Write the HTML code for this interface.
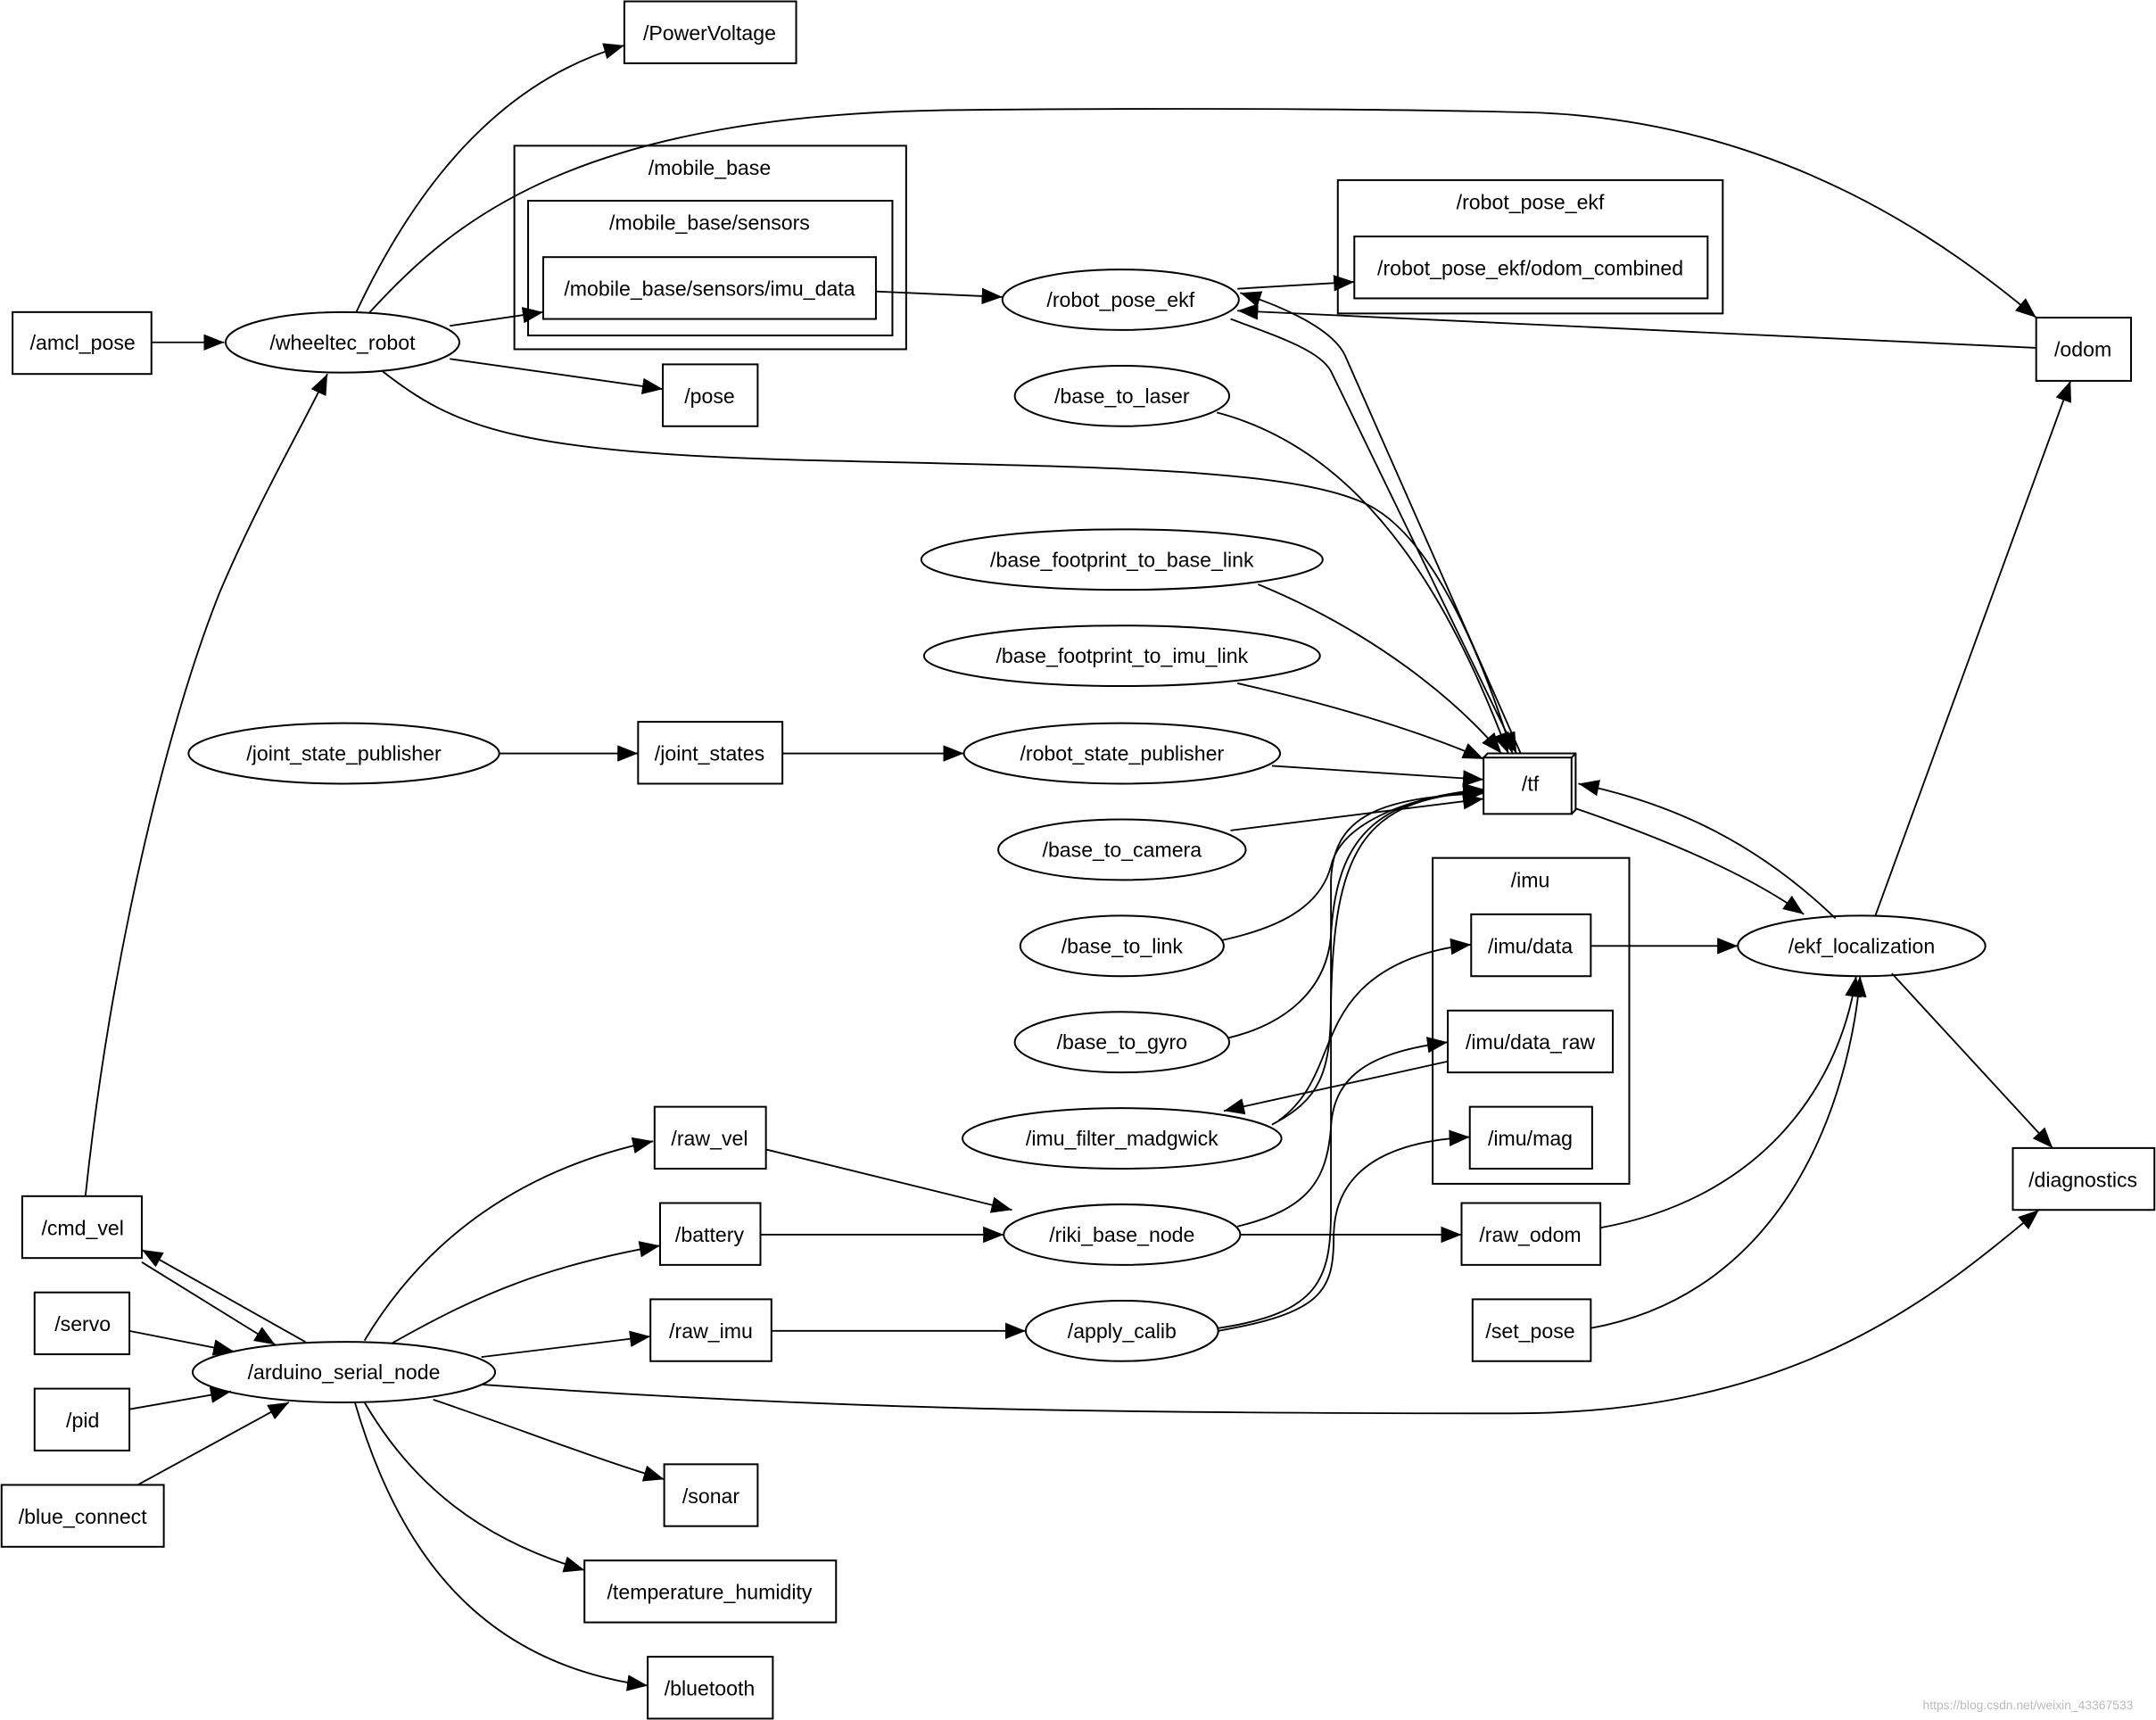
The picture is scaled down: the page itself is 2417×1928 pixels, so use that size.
<!DOCTYPE html>
<html><head><meta charset="utf-8"><style>
html,body{margin:0;padding:0;background:#fff;}
svg{display:block;}
text{font-family:"Liberation Sans","DejaVu Sans",sans-serif;font-size:15px;fill:#000;text-anchor:middle;dominant-baseline:central;}
.b{fill:none;stroke:#000;stroke-width:1.3;}
.e{fill:none;stroke:#000;stroke-width:1.2;marker-end:url(#a);}
</style></head><body>
<svg width="2417" height="1928" viewBox="0 0 1568 1251" xmlns="http://www.w3.org/2000/svg">
<defs><marker id="a" markerUnits="userSpaceOnUse" markerWidth="16" markerHeight="12" refX="15" refY="6" orient="auto"><path d="M0,0 L15,6 L0,12 Z" fill="#000"/></marker></defs>
<rect width="1568" height="1251" fill="#fff"/>
<!-- clusters -->
<rect class="b" x="374" y="106" width="285" height="148"/><text x="516" y="122">/mobile_base</text>
<rect class="b" x="384" y="146" width="265" height="98"/><text x="516" y="162">/mobile_base/sensors</text>
<rect class="b" x="973" y="131" width="280" height="97"/><text x="1113" y="147">/robot_pose_ekf</text>
<rect class="b" x="1042" y="624" width="143" height="237"/><text x="1113" y="640">/imu</text>
<!-- boxes -->
<rect class="b" x="454" y="1" width="125" height="45"/><text x="516" y="24">/PowerVoltage</text>
<rect class="b" x="9" y="227" width="101" height="45"/><text x="60" y="249">/amcl_pose</text>
<rect class="b" x="482" y="265" width="69" height="45"/><text x="516" y="288">/pose</text>
<rect class="b" x="1481" y="231" width="69" height="46"/><text x="1515" y="254">/odom</text>
<rect class="b" x="464" y="525" width="105" height="45"/><text x="516" y="548">/joint_states</text>
<rect class="b" x="1079" y="551" width="64" height="41"/><path class="b" d="M1079,551 L1082,548 L1146,548 L1146,589 L1143,592 M1143,551 L1146,548"/><text x="1113" y="570">/tf</text>
<rect class="b" x="476" y="805" width="81" height="45"/><text x="516" y="828">/raw_vel</text>
<rect class="b" x="480" y="875" width="73" height="45"/><text x="516" y="898">/battery</text>
<rect class="b" x="473" y="945" width="88" height="45"/><text x="517" y="968">/raw_imu</text>
<rect class="b" x="483" y="1065" width="68" height="45"/><text x="517" y="1088">/sonar</text>
<rect class="b" x="425" y="1135" width="183" height="45"/><text x="516" y="1158">/temperature_humidity</text>
<rect class="b" x="471" y="1205" width="91" height="45"/><text x="516" y="1228">/bluetooth</text>
<rect class="b" x="16" y="870" width="87" height="45"/><text x="60" y="893">/cmd_vel</text>
<rect class="b" x="25" y="940" width="69" height="45"/><text x="60" y="963">/servo</text>
<rect class="b" x="25" y="1010" width="69" height="45"/><text x="60" y="1033">/pid</text>
<rect class="b" x="1" y="1080" width="118" height="45"/><text x="60" y="1103">/blue_connect</text>
<rect class="b" x="1464" y="835" width="103" height="45"/><text x="1515" y="858">/diagnostics</text>
<rect class="b" x="1063" y="875" width="101" height="45"/><text x="1113" y="898">/raw_odom</text>
<rect class="b" x="1071" y="945" width="86" height="45"/><text x="1113" y="968">/set_pose</text>
<rect class="b" x="1070" y="665" width="87" height="45"/><text x="1113" y="688">/imu/data</text>
<rect class="b" x="1053" y="735" width="120" height="45"/><text x="1113" y="758">/imu/data_raw</text>
<rect class="b" x="1069" y="805" width="89" height="45"/><text x="1113" y="828">/imu/mag</text>
<rect class="b" x="395" y="187" width="242" height="45"/><text x="516" y="210">/mobile_base/sensors/imu_data</text>
<rect class="b" x="985" y="172" width="257" height="45"/><text x="1113" y="195">/robot_pose_ekf/odom_combined</text>
<!-- ellipses -->
<ellipse class="b" cx="249" cy="249" rx="85" ry="22"/><text x="249" y="249">/wheeltec_robot</text>
<ellipse class="b" cx="815" cy="218" rx="86" ry="22"/><text x="815" y="218">/robot_pose_ekf</text>
<ellipse class="b" cx="816" cy="288" rx="78" ry="22"/><text x="816" y="288">/base_to_laser</text>
<ellipse class="b" cx="816" cy="407" rx="146" ry="22"/><text x="816" y="407">/base_footprint_to_base_link</text>
<ellipse class="b" cx="816" cy="477" rx="144" ry="22"/><text x="816" y="477">/base_footprint_to_imu_link</text>
<ellipse class="b" cx="250" cy="548" rx="113" ry="22"/><text x="250" y="548">/joint_state_publisher</text>
<ellipse class="b" cx="816" cy="548" rx="115" ry="22"/><text x="816" y="548">/robot_state_publisher</text>
<ellipse class="b" cx="816" cy="618" rx="90" ry="22"/><text x="816" y="618">/base_to_camera</text>
<ellipse class="b" cx="816" cy="688" rx="74" ry="22"/><text x="816" y="688">/base_to_link</text>
<ellipse class="b" cx="816" cy="758" rx="78" ry="22"/><text x="816" y="758">/base_to_gyro</text>
<ellipse class="b" cx="816" cy="828" rx="116" ry="22"/><text x="816" y="828">/imu_filter_madgwick</text>
<ellipse class="b" cx="816" cy="898" rx="86" ry="22"/><text x="816" y="898">/riki_base_node</text>
<ellipse class="b" cx="816" cy="968" rx="70" ry="22"/><text x="816" y="968">/apply_calib</text>
<ellipse class="b" cx="1354" cy="688" rx="90" ry="22"/><text x="1354" y="688">/ekf_localization</text>
<ellipse class="b" cx="250" cy="998" rx="110" ry="22"/><text x="250" y="998">/arduino_serial_node</text>
<!-- edges -->
<path class="e" d="M110,249 L163,249"/>
<path class="e" d="M259,227 C300,140 360,60 454,33"/>
<path class="e" d="M327,237 L395,227"/>
<path class="e" d="M327,261 L482,283"/>
<path class="e" d="M268,228 C330,160 420,82 700,80 C900,78 1050,80 1120,82 C1300,90 1420,180 1481,231"/>
<path class="e" d="M278,270 C330,310 370,330 600,335 C800,340 950,340 1000,370 C1050,400 1085,500 1100,548"/>
<path class="e" d="M637,212 L729,216"/>
<path class="e" d="M900,210 L985,205"/>
<path class="e" d="M1481,253 L900,226"/>
<path class="e" d="M895,232 C930,245 960,255 968,270 L1103,548"/>
<path class="e" d="M1106,548 L978,258 C968,238 930,222 902,213"/>
<path class="e" d="M885,300 C1000,330 1060,450 1097,548"/>
<path class="e" d="M915,425 C1000,460 1060,510 1092,548"/>
<path class="e" d="M900,497 C980,515 1040,535 1079,552"/>
<path class="e" d="M925,557 L1079,567"/>
<path class="e" d="M895,604 L1079,581"/>
<path class="e" d="M888,684 C930,675 960,660 968,630 C975,600 1020,580 1079,574"/>
<path class="e" d="M893,755 C935,745 965,720 968,680 C972,610 1000,580 1079,575"/>
<path class="e" d="M925,818 C960,800 968,780 968,730 C970,620 990,580 1079,576"/>
<path class="e" d="M1053,772 L890,808"/>
<path class="e" d="M930,815 C965,790 960,750 990,720 C1010,700 1040,690 1070,687"/>
<path class="e" d="M363,548 L464,548"/>
<path class="e" d="M569,548 L701,548"/>
<path class="e" d="M1146,588 C1210,610 1270,635 1312,665"/>
<path class="e" d="M1335,668 C1280,615 1220,585 1148,570"/>
<path class="e" d="M1157,688 L1264,688"/>
<path class="e" d="M1364,666 L1506,277"/>
<path class="e" d="M1376,708 L1493,835"/>
<path class="e" d="M1164,893 C1290,870 1340,780 1350,710"/>
<path class="e" d="M1157,966 C1300,940 1345,800 1353,710"/>
<path class="e" d="M902,898 L1063,898"/>
<path class="e" d="M900,892 C950,880 965,860 968,820 C970,780 1000,765 1053,758"/>
<path class="e" d="M886,966 C960,955 968,930 968,880 L968,640 C970,595 1000,580 1079,577"/>
<path class="e" d="M886,968 C960,955 970,940 970,900 C970,850 1010,830 1069,827"/>
<path class="e" d="M557,836 L736,880"/>
<path class="e" d="M553,898 L730,898"/>
<path class="e" d="M561,968 L746,968"/>
<path class="e" d="M265,975 C310,900 380,850 475,830"/>
<path class="e" d="M285,977 C350,940 400,920 480,906"/>
<path class="e" d="M350,987 L473,972"/>
<path class="e" d="M315,1018 C380,1040 430,1060 483,1076"/>
<path class="e" d="M265,1020 C300,1080 350,1120 425,1142"/>
<path class="e" d="M258,1020 C290,1130 350,1210 471,1226"/>
<path class="e" d="M350,1007 C600,1025 800,1028 1100,1028 C1300,1028 1400,950 1483,880"/>
<path class="e" d="M222,976 L103,909"/>
<path class="e" d="M103,918 L200,978"/>
<path class="e" d="M94,968 L170,983"/>
<path class="e" d="M94,1025 L168,1012"/>
<path class="e" d="M100,1080 L210,1020"/>
<path class="e" d="M62,870 C80,700 120,530 160,430 C190,360 220,310 238,272"/>
<text x="1475" y="1240" style="font-size:9px;fill:#bbb">https://blog.csdn.net/weixin_43367533</text>
</svg>
</body></html>
